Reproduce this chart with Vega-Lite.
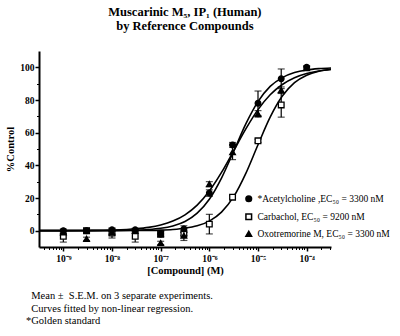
{
  "$schema": "https://vega.github.io/schema/vega-lite/v6.json",
  "padding": {"left": 5, "top": 6, "right": 5, "bottom": 5},
  "background": "white",
  "title": {
    "text": ["Muscarinic M₅, IP₁ (Human)", "by Reference Compounds"],
    "font": "Liberation Serif", "fontSize": 12.5, "fontWeight": "bold", "lineHeight": 13.5,
    "anchor": "middle", "offset": 19, "dx": -13, "color": "black"
  },
  "config": {"view": {"stroke": null}, "font": "Liberation Serif"},
  "datasets": {
    "curves": [
      {"compound": "Acetylcholine", "conc": 3.1623e-10, "pct": 0},
      {"compound": "Acetylcholine", "conc": 1e-9, "pct": 0.01},
      {"compound": "Acetylcholine", "conc": 3.1623e-9, "pct": 0.02},
      {"compound": "Acetylcholine", "conc": 1e-8, "pct": 0.1},
      {"compound": "Acetylcholine", "conc": 3.1623e-8, "pct": 0.38},
      {"compound": "Acetylcholine", "conc": 5.6234e-8, "pct": 0.75},
      {"compound": "Acetylcholine", "conc": 1e-7, "pct": 1.48},
      {"compound": "Acetylcholine", "conc": 1.7783e-7, "pct": 2.9},
      {"compound": "Acetylcholine", "conc": 3.1623e-7, "pct": 5.6},
      {"compound": "Acetylcholine", "conc": 5.6234e-7, "pct": 10.7},
      {"compound": "Acetylcholine", "conc": 1e-6, "pct": 19.2},
      {"compound": "Acetylcholine", "conc": 1.7783e-6, "pct": 32.2},
      {"compound": "Acetylcholine", "conc": 3.1623e-6, "pct": 48.6},
      {"compound": "Acetylcholine", "conc": 5.6234e-6, "pct": 65.4},
      {"compound": "Acetylcholine", "conc": 1e-5, "pct": 79.0},
      {"compound": "Acetylcholine", "conc": 1.7783e-5, "pct": 88.3},
      {"compound": "Acetylcholine", "conc": 3.1623e-5, "pct": 93.7},
      {"compound": "Acetylcholine", "conc": 5.6234e-5, "pct": 96.8},
      {"compound": "Acetylcholine", "conc": 1e-4, "pct": 98.4},
      {"compound": "Acetylcholine", "conc": 1.7783e-4, "pct": 99.2},
      {"compound": "Acetylcholine", "conc": 3.1623e-4, "pct": 99.6},
      {"compound": "Carbachol", "conc": 3.1623e-10, "pct": 0},
      {"compound": "Carbachol", "conc": 1e-9, "pct": 0},
      {"compound": "Carbachol", "conc": 3.1623e-9, "pct": 0.01},
      {"compound": "Carbachol", "conc": 1e-8, "pct": 0.02},
      {"compound": "Carbachol", "conc": 3.1623e-8, "pct": 0.08},
      {"compound": "Carbachol", "conc": 5.6234e-8, "pct": 0.17},
      {"compound": "Carbachol", "conc": 1e-7, "pct": 0.35},
      {"compound": "Carbachol", "conc": 1.7783e-7, "pct": 0.72},
      {"compound": "Carbachol", "conc": 3.1623e-7, "pct": 1.46},
      {"compound": "Carbachol", "conc": 5.6234e-7, "pct": 2.95},
      {"compound": "Carbachol", "conc": 1e-6, "pct": 5.87},
      {"compound": "Carbachol", "conc": 1.7783e-6, "pct": 11.35},
      {"compound": "Carbachol", "conc": 3.1623e-6, "pct": 20.8},
      {"compound": "Carbachol", "conc": 5.6234e-6, "pct": 35.1},
      {"compound": "Carbachol", "conc": 1e-5, "pct": 52.6},
      {"compound": "Carbachol", "conc": 1.7783e-5, "pct": 69.5},
      {"compound": "Carbachol", "conc": 3.1623e-5, "pct": 82.4},
      {"compound": "Carbachol", "conc": 5.6234e-5, "pct": 90.6},
      {"compound": "Carbachol", "conc": 1e-4, "pct": 95.2},
      {"compound": "Carbachol", "conc": 1.7783e-4, "pct": 97.6},
      {"compound": "Carbachol", "conc": 3.1623e-4, "pct": 98.8},
      {"compound": "Oxotremorine M", "conc": 3.1623e-10, "pct": 0.02},
      {"compound": "Oxotremorine M", "conc": 1e-9, "pct": 0.05},
      {"compound": "Oxotremorine M", "conc": 3.1623e-9, "pct": 0.14},
      {"compound": "Oxotremorine M", "conc": 1e-8, "pct": 0.4},
      {"compound": "Oxotremorine M", "conc": 3.1623e-8, "pct": 1.19},
      {"compound": "Oxotremorine M", "conc": 5.6234e-8, "pct": 2.04},
      {"compound": "Oxotremorine M", "conc": 1e-7, "pct": 3.47},
      {"compound": "Oxotremorine M", "conc": 1.7783e-7, "pct": 5.85},
      {"compound": "Oxotremorine M", "conc": 3.1623e-7, "pct": 9.7},
      {"compound": "Oxotremorine M", "conc": 5.6234e-7, "pct": 15.65},
      {"compound": "Oxotremorine M", "conc": 1e-6, "pct": 24.3},
      {"compound": "Oxotremorine M", "conc": 1.7783e-6, "pct": 35.65},
      {"compound": "Oxotremorine M", "conc": 3.1623e-6, "pct": 48.9},
      {"compound": "Oxotremorine M", "conc": 5.6234e-6, "pct": 62.3},
      {"compound": "Oxotremorine M", "conc": 1e-5, "pct": 74.1},
      {"compound": "Oxotremorine M", "conc": 1.7783e-5, "pct": 83.2},
      {"compound": "Oxotremorine M", "conc": 3.1623e-5, "pct": 89.5},
      {"compound": "Oxotremorine M", "conc": 5.6234e-5, "pct": 93.65},
      {"compound": "Oxotremorine M", "conc": 1e-4, "pct": 96.2},
      {"compound": "Oxotremorine M", "conc": 1.7783e-4, "pct": 97.8},
      {"compound": "Oxotremorine M", "conc": 3.1623e-4, "pct": 98.7}
    ],
    "points": [
      {"compound": "Carbachol", "conc": 1e-9, "mean": -3.5, "lo": -7, "hi": 0},
      {"compound": "Carbachol", "conc": 3e-9, "mean": 0, "lo": -1.5, "hi": 1.5},
      {"compound": "Carbachol", "conc": 1e-8, "mean": -1.5, "lo": -4.5, "hi": 1.5},
      {"compound": "Carbachol", "conc": 3e-8, "mean": -3.5, "lo": -7, "hi": 0},
      {"compound": "Carbachol", "conc": 1e-7, "mean": -2, "lo": -4, "hi": 0},
      {"compound": "Carbachol", "conc": 3e-7, "mean": -2, "lo": -3, "hi": -1},
      {"compound": "Carbachol", "conc": 1e-6, "mean": 4, "lo": -2, "hi": 10},
      {"compound": "Carbachol", "conc": 3e-6, "mean": 20.5, "lo": 19.5, "hi": 21.5},
      {"compound": "Carbachol", "conc": 1e-5, "mean": 55, "lo": 54, "hi": 56},
      {"compound": "Carbachol", "conc": 3e-5, "mean": 77, "lo": 69.5, "hi": 84.5},
      {"compound": "Acetylcholine", "conc": 1e-9, "mean": 0, "lo": -1, "hi": 1},
      {"compound": "Acetylcholine", "conc": 3e-9, "mean": 0, "lo": -1, "hi": 1},
      {"compound": "Acetylcholine", "conc": 1e-8, "mean": 0.5, "lo": -0.5, "hi": 1.5},
      {"compound": "Acetylcholine", "conc": 3e-8, "mean": 0.5, "lo": -0.5, "hi": 1.5},
      {"compound": "Acetylcholine", "conc": 1e-7, "mean": -2, "lo": -3.5, "hi": -0.5},
      {"compound": "Acetylcholine", "conc": 3e-7, "mean": 1, "lo": -1, "hi": 3},
      {"compound": "Acetylcholine", "conc": 1e-6, "mean": 23, "lo": 21, "hi": 25},
      {"compound": "Acetylcholine", "conc": 3e-6, "mean": 52.5, "lo": 51, "hi": 54},
      {"compound": "Acetylcholine", "conc": 1e-5, "mean": 78, "lo": 70.5, "hi": 85.5},
      {"compound": "Acetylcholine", "conc": 3e-5, "mean": 93, "lo": 87, "hi": 99},
      {"compound": "Acetylcholine", "conc": 1e-4, "mean": 100, "lo": 99, "hi": 101},
      {"compound": "Oxotremorine M", "conc": 1e-9, "mean": -1, "lo": -2, "hi": 0},
      {"compound": "Oxotremorine M", "conc": 3e-9, "mean": -5, "lo": -6, "hi": -4},
      {"compound": "Oxotremorine M", "conc": 1e-8, "mean": -1, "lo": -2, "hi": 0},
      {"compound": "Oxotremorine M", "conc": 3e-8, "mean": 0, "lo": -1, "hi": 1},
      {"compound": "Oxotremorine M", "conc": 1e-7, "mean": -7.5, "lo": -8.5, "hi": -6.5},
      {"compound": "Oxotremorine M", "conc": 3e-7, "mean": -3, "lo": -6, "hi": 0},
      {"compound": "Oxotremorine M", "conc": 1e-6, "mean": 28.5, "lo": 27, "hi": 30},
      {"compound": "Oxotremorine M", "conc": 3e-6, "mean": 48, "lo": 43.5, "hi": 52.5},
      {"compound": "Oxotremorine M", "conc": 1e-5, "mean": 71.5, "lo": 69.5, "hi": 73.5},
      {"compound": "Oxotremorine M", "conc": 3e-5, "mean": 86, "lo": 84, "hi": 88},
      {"compound": "Oxotremorine M", "conc": 1e-4, "mean": 99.5, "lo": 98.5, "hi": 100.5}
    ]
  },
  "vconcat": [
    {
      "width": 292,
      "height": 196,
      "title": {
        "text": ["\u200b\u2002Mean ±\u2002S.E.M. on 3 separate experiments.", "\u200b\u2002Curves fitted by non-linear regression.", "*Golden standard"],
        "orient": "bottom", "anchor": "start", "frame": "group",
        "font": "Liberation Serif", "fontSize": 10.5, "fontWeight": "normal", "lineHeight": 12.5,
        "dx": -13, "offset": 15, "color": "black"
      },
      "resolve": {"axis": {"x": "independent", "y": "independent"}},
      "layer": [
        {
          "data": {"name": "curves"},
          "mark": {"type": "line", "color": "black", "strokeWidth": 1.6, "interpolate": "monotone"},
          "encoding": {
            "x": {
              "field": "conc", "type": "quantitative",
              "scale": {"type": "log", "domain": [3.1623e-10, 3.1623e-4], "nice": false},
              "axis": {
                "orient": "bottom",
                "values": [1e-9, 1e-8, 1e-7, 1e-6, 1e-5, 1e-4],
                "labelExpr": "datum.value < 5e-9 ? '10⁻⁹' : datum.value < 5e-8 ? '10⁻⁸' : datum.value < 5e-7 ? '10⁻⁷' : datum.value < 5e-6 ? '10⁻⁶' : datum.value < 5e-5 ? '10⁻⁵' : '10⁻⁴'",
                "grid": false, "tickSize": 4, "tickWidth": 1.5, "tickColor": "black",
                "domainWidth": 2, "domainColor": "black",
                "labelFont": "Liberation Serif", "labelFontSize": 9.5, "labelFontWeight": "bold", "labelColor": "black", "labelPadding": 2,
                "title": "[Compound] (M)", "titleFont": "Liberation Serif", "titleFontSize": 10.5, "titleFontWeight": "bold", "titleColor": "black", "titlePadding": 3
              }
            },
            "y": {
              "field": "pct", "type": "quantitative",
              "scale": {"domain": [-10, 110], "nice": false},
              "axis": {
                "orient": "left",
                "values": [0, 20, 40, 60, 80, 100],
                "grid": false, "tickSize": 4, "tickWidth": 1.5, "tickColor": "black",
                "domainWidth": 2, "domainColor": "black",
                "labelFont": "Liberation Serif", "labelFontSize": 9.5, "labelFontWeight": "bold", "labelColor": "black", "labelPadding": 1,
                "title": "%Control", "titleFont": "Liberation Serif", "titleFontSize": 10.5, "titleFontWeight": "bold", "titleColor": "black", "titlePadding": 4
              }
            },
            "detail": {"field": "compound"}
          }
        },
        {
          "data": {"name": "points"},
          "mark": {"type": "errorbar", "color": "black", "ticks": {"size": 7, "thickness": 1.2}, "rule": {"strokeWidth": 1.2}},
          "encoding": {
            "x": {"field": "conc", "type": "quantitative", "scale": {"type": "log", "domain": [3.1623e-10, 3.1623e-4], "nice": false}, "axis": null},
            "y": {"field": "lo", "type": "quantitative", "scale": {"domain": [-10, 110], "nice": false}, "axis": null},
            "y2": {"field": "hi"}
          }
        },
        {
          "data": {"name": "points"},
          "mark": {"type": "point", "filled": true, "stroke": "black", "strokeWidth": 1.3, "opacity": 1, "size": 32},
          "encoding": {
            "x": {
              "field": "conc", "type": "quantitative",
              "scale": {"type": "log", "domain": [3.1623e-10, 3.1623e-4], "nice": false},
              "axis": {
                "orient": "bottom",
                "values": [4e-10, 5e-10, 6e-10, 7e-10, 8e-10, 9e-10, 2e-9, 3e-9, 4e-9, 5e-9, 6e-9, 7e-9, 8e-9, 9e-9, 2e-8, 3e-8, 4e-8, 5e-8, 6e-8, 7e-8, 8e-8, 9e-8, 2e-7, 3e-7, 4e-7, 5e-7, 6e-7, 7e-7, 8e-7, 9e-7, 2e-6, 3e-6, 4e-6, 5e-6, 6e-6, 7e-6, 8e-6, 9e-6, 2e-5, 3e-5, 4e-5, 5e-5, 6e-5, 7e-5, 8e-5, 9e-5, 2e-4, 3e-4],
                "labels": false, "domain": false, "grid": false, "tickSize": 2.5, "tickWidth": 1, "tickColor": "black", "title": null
              }
            },
            "y": {
              "field": "mean", "type": "quantitative",
              "scale": {"domain": [-10, 110], "nice": false},
              "axis": {
                "orient": "left",
                "values": [10, 30, 50, 70, 90],
                "labels": false, "domain": false, "grid": false, "tickSize": 2.5, "tickWidth": 1, "tickColor": "black", "title": null
              }
            },
            "shape": {
              "field": "compound", "type": "nominal",
              "scale": {"domain": ["Acetylcholine", "Carbachol", "Oxotremorine M"], "range": ["circle", "square", "triangle-up"]},
              "legend": {
                "orient": "none", "legendX": 205, "legendY": 143, "title": null, "padding": 0,
                "labelFont": "Liberation Serif", "labelFontSize": 9.5, "labelColor": "black", "labelOffset": 4,
                "rowPadding": 5, "symbolSize": 32,
                "encode": {"symbols": {"update": {"stroke": {"value": "black"}, "strokeWidth": {"value": 1.3}}}},
                "labelExpr": "datum.value == 'Acetylcholine' ? '*Acetylcholine ,EC₅₀ = 3300 nM' : datum.value == 'Carbachol' ? 'Carbachol, EC₅₀ = 9200 nM' : 'Oxotremorine M, EC₅₀ = 3300 nM'"
              }
            },
            "fill": {
              "field": "compound", "type": "nominal",
              "scale": {"domain": ["Acetylcholine", "Carbachol", "Oxotremorine M"], "range": ["black", "white", "black"]},
              "legend": {
                "orient": "none", "legendX": 205, "legendY": 143, "title": null, "padding": 0,
                "labelFont": "Liberation Serif", "labelFontSize": 9.5, "labelColor": "black", "labelOffset": 4,
                "rowPadding": 5, "symbolSize": 32,
                "encode": {"symbols": {"update": {"stroke": {"value": "black"}, "strokeWidth": {"value": 1.3}}}},
                "labelExpr": "datum.value == 'Acetylcholine' ? '*Acetylcholine ,EC₅₀ = 3300 nM' : datum.value == 'Carbachol' ? 'Carbachol, EC₅₀ = 9200 nM' : 'Oxotremorine M, EC₅₀ = 3300 nM'"
              }
            }
          }
        }
      ]
    }
  ]
}
